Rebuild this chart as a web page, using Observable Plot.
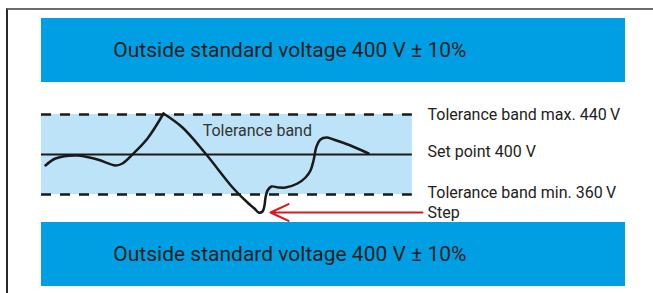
<!DOCTYPE html>
<html>
<head>
<meta charset="utf-8">
<script src="https://cdn.jsdelivr.net/npm/d3@7"></script>
<script src="https://cdn.jsdelivr.net/npm/@observablehq/plot@0.6"></script>
<style>
  html, body { margin: 0; padding: 0; background: #fff; }
  #wrap { position: relative; width: 653px; height: 293px; overflow: hidden; }
  #frame { position: absolute; left: 6px; top: 8px; right: -4px; bottom: -4px;
           border-top: 2px solid #6b6b6b; border-left: 2px solid #2a2a2a; }
  #chart { position: absolute; left: 0; top: 0; }
</style>
</head>
<body>
<div id="wrap"><div id="frame"></div><div id="chart"></div></div>
<script>
// Outside-voltage bands (V)
const bandLow = [472, 268];
const bandHigh = [536, 332];
const bandText = ["Outside standard voltage 400 V ± 10%", "Outside standard voltage 400 V ± 10%"];
const bandTextT = 12.3;

// Tolerance band
const tolMin = 360;
const tolMax = 440;
const setPoint = 400;
const tolStart = 0;
const tolEnd = 63.5;
const fullEnd = 100;

// Voltage trace (time in arbitrary units, voltage in V); two segments meet at the sharp peak
const traceT = [0.68, 2.4, 6.16, 9.59, 12.67, 13.87, 15.75, 18.15, 20.89,
                20.89, 24.14, 28.08, 32.88, 35.45, 36.47, 37.16, 37.84, 38.18, 38.36, 38.70, 39.38, 40.58, 41.78, 43.84, 45.21, 46.06, 46.58, 47.09, 47.77, 48.8, 50.0, 52.91, 56.0];
const traceV = [389, 396, 399, 395, 389, 391, 401, 416, 441,
                441, 427, 401, 366, 351, 346, 342, 343, 349, 357, 364, 368, 367, 367, 371, 377, 384, 394, 408, 415, 417, 415, 409, 401];
const traceSeg = [0, 0, 0, 0, 0, 0, 0, 0, 0,
                  1, 1, 1, 1, 1, 1, 1, 1, 1, 1, 1, 1, 1, 1, 1, 1, 1, 1, 1, 1, 1, 1, 1, 1];

// Step arrow
const stepFrom = 65.24;
const stepTo = 39.21;
const stepV = 342;

// Right-hand labels
const labelText = ["Tolerance band max. 440\u2009V", "Set point 400 V", "Tolerance band min. 360\u2009V", "Step"];
const labelV = [440, 403, 362, 342];
const labelT = 66.1;

// Inner label
const innerText = ["Tolerance band"];
const innerT = 27.6;
const innerV = 424;

const trace = traceT.map((t, i) => ({t, v: traceV[i], seg: traceSeg[i]}));
const bands = bandLow.map((lo, i) => ({lo, hi: bandHigh[i], label: bandText[i]}));
const labels = labelText.map((s, i) => ({s, v: labelV[i]}));

const chart = Plot.plot({
  width: 653, height: 293,
  marginLeft: 41, marginRight: 28, marginTop: 18, marginBottom: 7,
  x: {domain: [0, fullEnd], axis: null},
  y: {domain: [268, 536], axis: null},
  style: {background: "transparent", fontFamily: "Roboto, sans-serif", overflow: "visible", color: "#222"},
  marks: [
    Plot.rect(bands, {x1: 0, x2: fullEnd, y1: "lo", y2: "hi", fill: "#009FE3"}),
    Plot.text(bands, {x: bandTextT, y: d => (d.lo + d.hi) / 2, text: "label", textAnchor: "start", fontSize: 21, fill: "#222"}),
    Plot.rect([0], {x1: tolStart, x2: tolEnd, y1: tolMin, y2: tolMax, fill: "#BDE3F8"}),
    Plot.ruleY([setPoint], {x1: tolStart, x2: tolEnd, stroke: "#1a1a1a", strokeWidth: 2}),
    Plot.ruleY([tolMin, tolMax], {x1: tolStart, x2: tolEnd, stroke: "#1a1a1a", strokeWidth: 2.5, strokeDasharray: "10,9"}),
    Plot.line(trace, {x: "t", y: "v", z: "seg", curve: "catmull-rom", stroke: "#1a1a1a", strokeWidth: 2.5, strokeLinejoin: "round", strokeLinecap: "round"}),
    Plot.arrow([0], {x1: stepFrom, x2: stepTo, y1: stepV, y2: stepV, stroke: "#D7191C", strokeWidth: 2, headLength: 15, headAngle: 50}),
    Plot.text(innerText, {x: innerT, y: innerV, text: d => d, textAnchor: "start", fontSize: 16, fill: "#333"}),
    Plot.text(labels, {x: labelT, y: "v", text: "s", textAnchor: "start", fontSize: 16, fill: "#222"})
  ]
});
document.getElementById("chart").appendChild(chart);
</script>
</body>
</html>
